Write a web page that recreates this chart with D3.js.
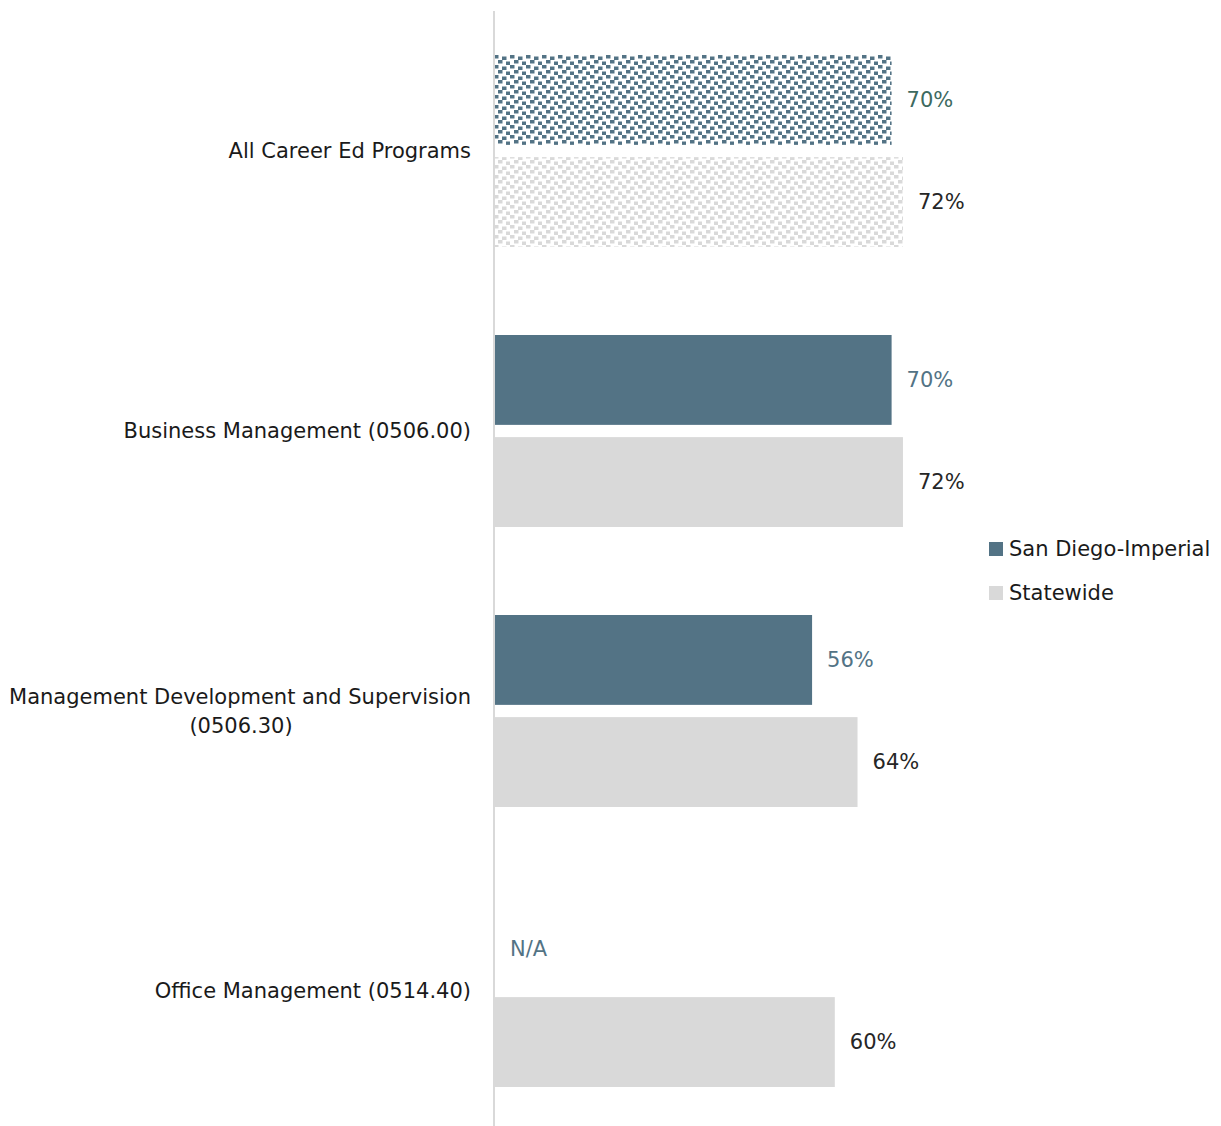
<!DOCTYPE html>
<html>
<head>
<meta charset="utf-8">
<script src="https://cdn.jsdelivr.net/npm/d3@7"></script>
<style>
  html, body { margin: 0; padding: 0; background: #fff; }
  svg { display: block; font-family: "DejaVu Sans", sans-serif; }
</style>
</head>
<body>
<svg id="chart" width="1221" height="1126"></svg>
<script>
// Program categories (top to bottom)
const categories = [
  "All Career Ed Programs",
  "Business Management (0506.00)",
  "Management Development and Supervision (0506.30)",
  "Office Management (0514.40)"
];
// Share of students, in percent; null = not available
const regionValues = [70, 70, 56, null];
const statewideValues = [72, 72, 64, 60];
const seriesNames = ["San Diego-Imperial", "Statewide"];

const W = 1221, H = 1126;
const svg = d3.select("#chart");

const BLUE = "#537385", GRAY = "#d9d9d9";
const FS = 21;

// Confetti fills for the all-programs summary row
const defs = svg.append("defs");
function confetti(id, color) {
  const p = defs.append("pattern").attr("id", id)
    .attr("patternUnits", "userSpaceOnUse")
    .attr("x", 494).attr("y", 55)
    .attr("width", 16).attr("height", 10);
  const cells = [[0, 0], [8, 1.5], [4, 5], [12, 6.5]];
  cells.forEach(([x, y]) => p.append("rect")
    .attr("x", x).attr("y", y).attr("width", 4.5).attr("height", 3.5)
    .attr("fill", color));
}
confetti("patBlue", BLUE);
confetti("patGray", GRAY);

const x = d3.scaleLinear().domain([0, 100]).range([494, 1062]);
const y = d3.scaleBand().domain(categories).range([11, 1131]);
const inner = d3.scaleBand().domain(seriesNames).range([44, 236]).paddingInner(0.12);

const rows = categories.map((c, i) => ({ c, i, vals: [regionValues[i], statewideValues[i]] }));

const g = svg.append("g");
rows.forEach(r => {
  r.vals.forEach((v, s) => {
    const y0 = y(r.c) + inner(seriesNames[s]);
    const bh = inner.bandwidth();
    if (v == null) {
      g.append("text").attr("x", x(0) + 16).attr("y", y0 + bh / 2 + 9)
        .attr("dy", "0.35em").attr("font-size", FS).attr("fill", BLUE)
        .text("N/A");
      return;
    }
    const fill = r.i === 0 ? (s === 0 ? "url(#patBlue)" : "url(#patGray)") : (s === 0 ? BLUE : GRAY);
    g.append("rect").attr("x", x(0)).attr("y", y0)
      .attr("width", x(v) - x(0)).attr("height", bh).attr("fill", fill);
    g.append("text").attr("x", x(v) + 15).attr("y", y0 + bh / 2)
      .attr("dy", "0.35em").attr("font-size", FS)
      .attr("fill", s === 0 ? (r.i === 0 ? "#3e6a5f" : BLUE) : "#262626")
      .text(v + "%");
  });
});

// Category axis line
svg.append("line").attr("x1", x(0)).attr("x2", x(0)).attr("y1", 11).attr("y2", H)
  .attr("stroke", GRAY).attr("stroke-width", 2);

// Category labels, wrapped to the available width
const labelX = 471;
rows.forEach(r => {
  const lines = r.c.length > 35
    ? ["Management Development and Supervision", "(0506.30)"]
    : [r.c];
  const cy = y(r.c) + y.bandwidth() / 2;
  const t = svg.append("text").attr("font-size", FS).attr("fill", "#1a1a1a");
  if (lines.length === 1) {
    t.attr("x", labelX).attr("y", cy).attr("dy", "0.35em").attr("text-anchor", "end").text(lines[0]);
  } else {
    const lh = 29;
    lines.forEach((l, k) => {
      t.append("tspan").attr("x", k === 0 ? labelX : 241).attr("y", cy - lh / 2 + k * lh)
        .attr("dy", "0.35em").attr("text-anchor", k === 0 ? "end" : "middle").text(l);
    });
  }
});

// Legend
const legend = svg.append("g").attr("transform", "translate(989,542)");
seriesNames.forEach((n, i) => {
  legend.append("rect").attr("x", 0).attr("y", i * 44).attr("width", 14).attr("height", 14)
    .attr("fill", i === 0 ? BLUE : GRAY);
  legend.append("text").attr("x", 20).attr("y", i * 44 + 7).attr("dy", "0.35em")
    .attr("font-size", FS).attr("fill", "#1a1a1a").text(n);
});
</script>
</body>
</html>
